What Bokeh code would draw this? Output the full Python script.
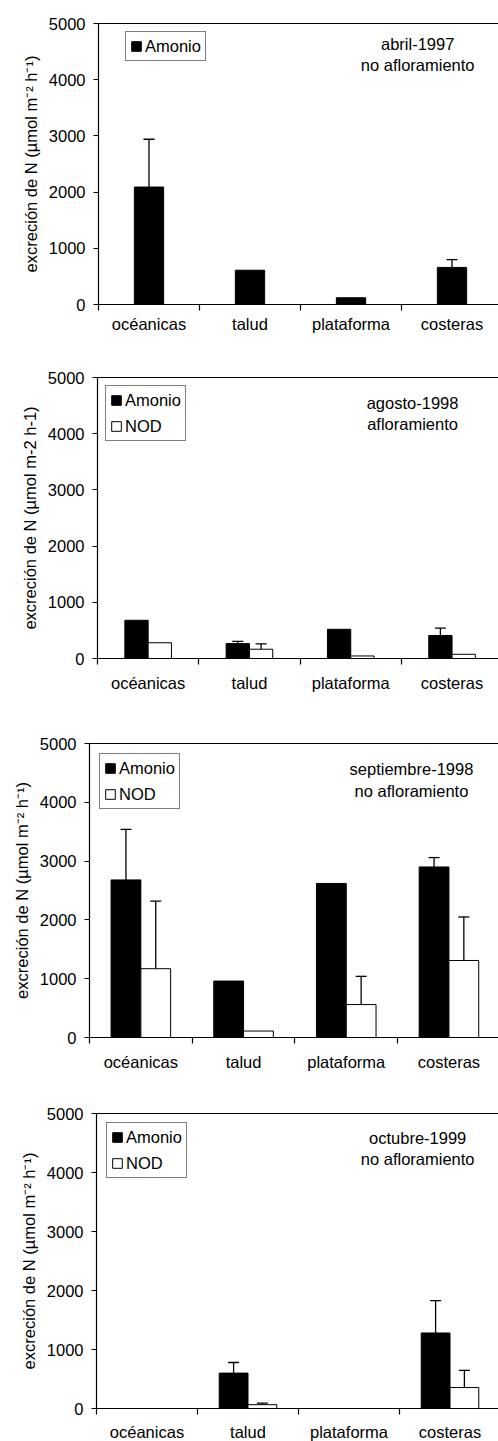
from bokeh.plotting import figure
from bokeh.models import (Range1d, FixedTicker, LinearAxis, Legend, LegendItem,
                          Label, ColumnDataSource, Whisker, TeeHead)
from bokeh.layouts import column
from bokeh.embed import file_html
from bokeh.resources import INLINE

categories = ["océanicas", "talud", "plataforma", "costeras"]
y_ticks = [0, 1000, 2000, 3000, 4000, 5000]

# abril-1997 (no afloramiento)
abr97_amonio = [2090, 610, 120, 660]
abr97_amonio_err = [850, 0, 0, 140]

# agosto-1998 (afloramiento)
ago98_amonio = [680, 265, 520, 410]
ago98_amonio_err = [0, 40, 0, 130]
ago98_nod = [280, 165, 45, 75]
ago98_nod_err = [0, 95, 0, 0]

# septiembre-1998 (no afloramiento)
sep98_amonio = [2680, 960, 2620, 2900]
sep98_amonio_err = [860, 0, 0, 160]
sep98_nod = [1170, 110, 560, 1310]
sep98_nod_err = [1150, 0, 480, 740]

# octubre-1999 (no afloramiento)
oct99_amonio = [0, 600, 0, 1280]
oct99_amonio_err = [0, 180, 0, 550]
oct99_nod = [0, 65, 0, 355]
oct99_nod_err = [0, 25, 0, 290]

FONT = "Liberation Sans"
FS = "16.5px"
YLAB_SUP = "excreción de N (µmol m⁻² h⁻¹)"
YLAB_PLAIN = "excreción de N (µmol m-2 h-1)"


def make_panel(series, bar_w, left, top, fh, bottom, xr_end, lines, ylab,
               leg_loc, text_x, text_y, x_standoff):
    fw = 498 - left
    p = figure(frame_width=fw, frame_height=fh,
               x_range=Range1d(0, xr_end), y_range=Range1d(0, 5000),
               output_backend="svg", toolbar_location=None,
               min_border_left=left, min_border_top=top,
               min_border_bottom=bottom, min_border_right=0)
    p.outline_line_color = None
    p.xgrid.grid_line_color = None
    p.ygrid.grid_line_color = None
    p.background_fill_color = "white"

    n = len(series)
    items = []
    for k, (name, vals, errs, fill) in enumerate(series):
        offset = (k - (n - 1) / 2) * bar_w
        xs = [i + 0.5 + offset for i in range(len(categories))]
        src = ColumnDataSource(dict(x=xs, top=vals))
        r = p.vbar(x="x", top="top", width=bar_w, source=src,
                   fill_color=fill, line_color="black", line_width=1)
        items.append(LegendItem(label=name, renderers=[r]))
        ex = [x for x, e in zip(xs, errs) if e > 0]
        lo = [v for v, e in zip(vals, errs) if e > 0]
        hi = [v + e for v, e in zip(vals, errs) if e > 0]
        if ex:
            esrc = ColumnDataSource(dict(x=ex, lo=lo, hi=hi))
            w = Whisker(base="x", lower="lo", upper="hi", source=esrc,
                        line_color="black", line_width=1.3,
                        upper_head=TeeHead(size=11, line_color="black", line_width=1.3),
                        lower_head=None)
            p.add_layout(w)

    # x axis: labels at category centres, ticks at boundaries
    xa = p.xaxis[0]
    xa.ticker = FixedTicker(ticks=[i + 0.5 for i in range(len(categories))],
                            minor_ticks=list(range(len(categories) + 1)))
    xa.major_label_overrides = {i + 0.5: c for i, c in enumerate(categories)}
    xa.major_tick_line_color = None
    xa.major_tick_in = 0
    xa.major_tick_out = 0
    xa.minor_tick_in = 0
    xa.minor_tick_out = 6
    xa.minor_tick_line_color = "black"
    xa.minor_tick_line_width = 1.2
    xa.axis_line_color = "black"
    xa.axis_line_width = 1.2
    xa.major_label_text_font = FONT
    xa.major_label_text_font_size = FS
    xa.major_label_text_color = "black"
    xa.major_label_standoff = x_standoff

    ya = p.yaxis[0]
    ya.ticker = FixedTicker(ticks=y_ticks)
    ya.major_tick_in = 0
    ya.major_tick_out = 5
    ya.major_tick_line_color = "black"
    ya.major_tick_line_width = 1.2
    ya.minor_tick_line_color = None
    ya.axis_line_color = "black"
    ya.axis_line_width = 1.2
    ya.major_label_text_font = FONT
    ya.major_label_text_font_size = FS
    ya.major_label_text_color = "black"
    ya.major_label_standoff = 8
    ya.axis_label = ylab
    ya.axis_label_text_font = FONT
    ya.axis_label_text_font_size = FS
    ya.axis_label_text_font_style = "normal"
    ya.axis_label_text_color = "black"
    ya.axis_label_standoff = 6

    top_axis = LinearAxis(ticker=FixedTicker(ticks=[]),
                          major_label_text_font_size="0px",
                          major_tick_line_color=None,
                          minor_tick_line_color=None,
                          axis_line_color="black", axis_line_width=1.2)
    p.add_layout(top_axis, "above")

    leg = Legend(items=items, location=leg_loc,
                 label_text_font=FONT, label_text_font_size=FS,
                 label_text_color="black",
                 glyph_width=12, glyph_height=12, label_standoff=3,
                 label_height=20, padding=4, spacing=6, margin=0,
                 border_line_color="black", border_line_width=1,
                 background_fill_color="white", background_fill_alpha=1)
    p.add_layout(leg)

    for txt, ty in zip(lines, text_y):
        p.add_layout(Label(x=text_x, y=ty, text=txt, text_align="center",
                           text_baseline="middle", text_font=FONT,
                           text_font_size=FS, text_color="black"))
    return p


p1 = make_panel([("Amonio", abr97_amonio, abr97_amonio_err, "black")],
                0.29, 98, 23, 281, 40, 400 / 101.0,
                ["abril-1997", "no afloramiento"], YLAB_SUP,
                (27, 243), 3.16, [4644, 4253], 4)
p2 = make_panel([("Amonio", ago98_amonio, ago98_amonio_err, "black"),
                 ("NOD", ago98_nod, ago98_nod_err, "white")],
                0.23, 97, 33, 281, 40, 401 / 101.3,
                ["agosto-1998", "afloramiento"], YLAB_PLAIN,
                (8, 217), 3.11, [4555, 4164], 9)
p3 = make_panel([("Amonio", sep98_amonio, sep98_amonio_err, "black"),
                 ("NOD", sep98_nod, sep98_nod_err, "white")],
                0.29, 89, 45, 294, 40, 409 / 102.7,
                ["septiembre-1998", "no afloramiento"], YLAB_SUP,
                (10, 228), 3.135, [4558, 4184], 9)
p4 = make_panel([("Amonio", oct99_amonio, oct99_amonio_err, "black"),
                 ("NOD", oct99_nod, oct99_nod_err, "white")],
                0.285, 96, 36, 295, 33, 402 / 101.0,
                ["octubre-1999", "no afloramiento"], YLAB_SUP,
                (10, 230), 3.18, [4593, 4237], 8)

layout = column(column(p1), column(p2), column(p3), column(p4), spacing=0)
open("out.html", "w").write(file_html(layout, INLINE))
